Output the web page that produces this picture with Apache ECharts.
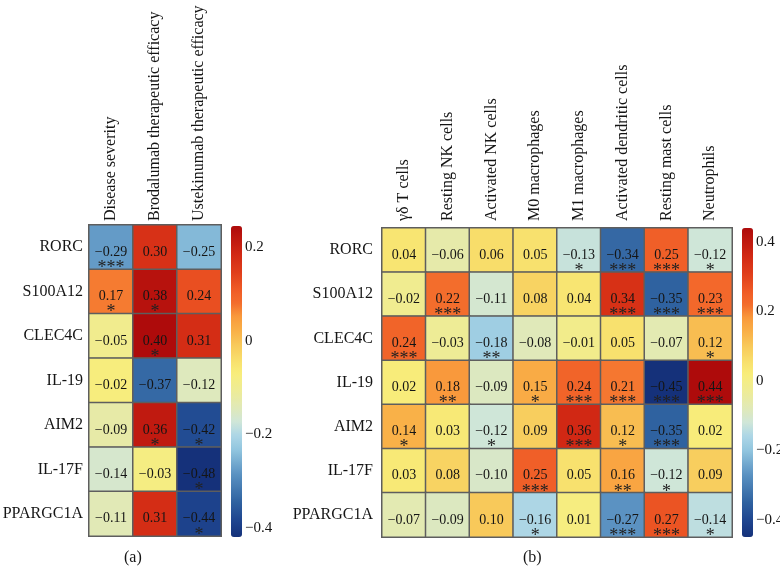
<!DOCTYPE html>
<html>
<head>
<meta charset="utf-8">
<script src="https://cdn.jsdelivr.net/npm/echarts@6/dist/echarts.min.js"></script>
<style>html,body{margin:0;padding:0;background:#fff;}#c{width:780px;height:567px;}</style>
</head>
<body>
<div id="c"></div>
<script>
// ---------- data ----------
var genes = ['RORC', 'S100A12', 'CLEC4C', 'IL-19', 'AIM2', 'IL-17F', 'PPARGC1A'];
var clinical = ['Disease severity', 'Brodalumab therapeutic efficacy', 'Ustekinumab therapeutic efficacy'];
var valuesA = [
  [-0.29, 0.30, -0.25],
  [0.17, 0.38, 0.24],
  [-0.05, 0.40, 0.31],
  [-0.02, -0.37, -0.12],
  [-0.09, 0.36, -0.42],
  [-0.14, -0.03, -0.48],
  [-0.11, 0.31, -0.44]
];
var starsA = [
  ['***', '', ''],
  ['*', '*', ''],
  ['', '*', ''],
  ['', '', ''],
  ['', '*', '*'],
  ['', '', '*'],
  ['', '', '*']
];
var cells = ['\u03b3\u03b4 T cells', 'Resting NK cells', 'Activated NK cells', 'M0 macrophages', 'M1 macrophages', 'Activated dendritic cells', 'Resting mast cells', 'Neutrophils'];
var valuesB = [
  [0.04, -0.06, 0.06, 0.05, -0.13, -0.34, 0.25, -0.12],
  [-0.02, 0.22, -0.11, 0.08, 0.04, 0.34, -0.35, 0.23],
  [0.24, -0.03, -0.18, -0.08, -0.01, 0.05, -0.07, 0.12],
  [0.02, 0.18, -0.09, 0.15, 0.24, 0.21, -0.45, 0.44],
  [0.14, 0.03, -0.12, 0.09, 0.36, 0.12, -0.35, 0.02],
  [0.03, 0.08, -0.10, 0.25, 0.05, 0.16, -0.12, 0.09],
  [-0.07, -0.09, 0.10, -0.16, 0.01, -0.27, 0.27, -0.14]
];
var starsB = [
  ['', '', '', '', '*', '***', '***', '*'],
  ['', '***', '', '', '', '***', '***', '***'],
  ['***', '', '**', '', '', '', '', '*'],
  ['', '**', '', '*', '***', '***', '***', '***'],
  ['*', '', '*', '', '***', '*', '***', ''],
  ['', '', '', '***', '', '**', '*', ''],
  ['', '', '', '*', '', '***', '***', '*']
];
var colorbarATicks = [-0.4, -0.2, 0, 0.2];
var colorbarBTicks = [-0.4, -0.2, 0, 0.2, 0.4];

// ---------- palette (normalized position -> colour) ----------
var PALETTE = [
  [0.000, '#15317a'], [0.056, '#1f4690'], [0.112, '#2f62a0'], [0.202, '#5a92c2'],
  [0.281, '#92c6df'], [0.326, '#acd6e6'], [0.371, '#d0e6d8'], [0.416, '#e0e9b8'],
  [0.472, '#eeec96'], [0.528, '#f8ed7a'], [0.573, '#f8dd6a'], [0.618, '#f8c95a'],
  [0.663, '#f9b048'], [0.708, '#f99a3c'], [0.753, '#f36c2c'], [0.787, '#f15f28'],
  [0.843, '#e2421c'], [0.910, '#d12814'], [1.000, '#ae0b0b']
];
function hex2rgb(h) { return [parseInt(h.substr(1, 2), 16), parseInt(h.substr(3, 2), 16), parseInt(h.substr(5, 2), 16)]; }
function sample(p) {
  for (var i = 1; i < PALETTE.length; i++) {
    if (p <= PALETTE[i][0]) {
      var a = PALETTE[i - 1], b = PALETTE[i];
      var t = (p - a[0]) / (b[0] - a[0]);
      var ca = hex2rgb(a[1]), cb = hex2rgb(b[1]);
      return 'rgb(' + [0, 1, 2].map(function (k) { return Math.round(ca[k] + (cb[k] - ca[k]) * t); }).join(',') + ')';
    }
  }
  return PALETTE[PALETTE.length - 1][1];
}
var ramp = [];
for (var i = 0; i <= 100; i++) ramp.push(sample(i / 100));

function fmtNum(v) { return (v < 0 ? '\u2212' : '') + Math.abs(v).toFixed(2); }
function buildData(vals, stars) {
  var out = [];
  vals.forEach(function (row, r) {
    row.forEach(function (v, c) { out.push({ value: [c, r, v], stars: stars[r][c] }); });
  });
  return out;
}

var FONT = 'Liberation Serif, Times New Roman, serif';
var TXT = '#151515';

function heatLabel() {
  return {
    show: true,
    offset: [0, 13],
    formatter: function (p) {
      return '{v|' + fmtNum(p.value[2]) + '}\n{s|' + (p.data.stars || ' ') + '}';
    },
    rich: {
      v: { fontSize: 14, lineHeight: 16, fontFamily: FONT, color: TXT },
      s: { fontSize: 18, lineHeight: 16, fontFamily: FONT, color: '#222' }
    }
  };
}
function catX(idx, data, margin) {
  return {
    type: 'category', gridIndex: idx, data: data, position: 'top',
    axisLine: { show: false }, axisTick: { show: false }, splitLine: { show: false },
    axisLabel: { rotate: -90, margin: margin, fontSize: 16, fontFamily: FONT, color: TXT, interval: 0 }
  };
}
function catY(idx, data, margin) {
  return {
    type: 'category', gridIndex: idx, data: data, inverse: true,
    axisLine: { show: false }, axisTick: { show: false }, splitLine: { show: false },
    axisLabel: { margin: margin, fontSize: 16, fontFamily: FONT, color: TXT, interval: 0 }
  };
}
function barAxisY(idx, min, max, ticks) {
  return {
    type: 'value', gridIndex: idx, min: min, max: max, position: 'right',
    axisLine: { show: false }, axisTick: { show: false }, splitLine: { show: false },
    axisLabel: {
      customValues: ticks, margin: 3, fontSize: 15, fontFamily: FONT, color: TXT,
      formatter: function (v) { return String(Math.round(v * 10) / 10).replace('-', '\u2212'); }
    }
  };
}

var chart = echarts.init(document.getElementById('c'));
chart.setOption({
  backgroundColor: '#fff',
  animation: false,
  grid: [
    { left: 89, top: 225, width: 132, height: 311, outerBoundsMode: 'none' },
    { left: 382, top: 228, width: 350, height: 309, outerBoundsMode: 'none' },
    { left: 231, top: 226, width: 11, height: 311, outerBoundsMode: 'none' },
    { left: 742, top: 228, width: 11, height: 309, outerBoundsMode: 'none' }
  ],
  xAxis: [
    catX(0, clinical, 4),
    catX(1, cells, 7),
    { type: 'value', gridIndex: 2, show: false },
    { type: 'value', gridIndex: 3, show: false }
  ],
  yAxis: [
    catY(0, genes, 6),
    catY(1, genes, 9),
    barAxisY(2, -0.42, 0.245, colorbarATicks),
    barAxisY(3, -0.45, 0.44, colorbarBTicks)
  ],
  visualMap: [
    { type: 'continuous', show: false, seriesIndex: 0, min: -0.48, max: 0.40, inRange: { color: ramp } },
    { type: 'continuous', show: true, seriesIndex: 1, min: -0.45, max: 0.44, inRange: { color: ramp },
      left: 742, top: 228, itemWidth: 11, itemHeight: 309, padding: 0, calculable: false, hoverLink: false },
    { type: 'continuous', show: true, seriesIndex: 2, min: -0.42, max: 0.245, inRange: { color: ramp },
      left: 231, top: 226, itemWidth: 11, itemHeight: 311, padding: 0, calculable: false, hoverLink: false }
  ],
  series: [
    { type: 'heatmap', xAxisIndex: 0, yAxisIndex: 0, data: buildData(valuesA, starsA),
      itemStyle: { borderColor: '#5e5e5e', borderWidth: 1.5 }, label: heatLabel(), emphasis: { disabled: true } },
    { type: 'heatmap', xAxisIndex: 1, yAxisIndex: 1, data: buildData(valuesB, starsB),
      itemStyle: { borderColor: '#5e5e5e', borderWidth: 1.5 }, label: heatLabel(), emphasis: { disabled: true } },
    { type: 'scatter', xAxisIndex: 2, yAxisIndex: 2, data: [] }
  ],
  graphic: [
    { type: 'text', left: 124, top: 550, style: { text: '(a)', fontSize: 16, fontFamily: FONT, fill: TXT } },
    { type: 'text', left: 523, top: 550, style: { text: '(b)', fontSize: 16, fontFamily: FONT, fill: TXT } }
  ]
});
</script>
</body>
</html>
